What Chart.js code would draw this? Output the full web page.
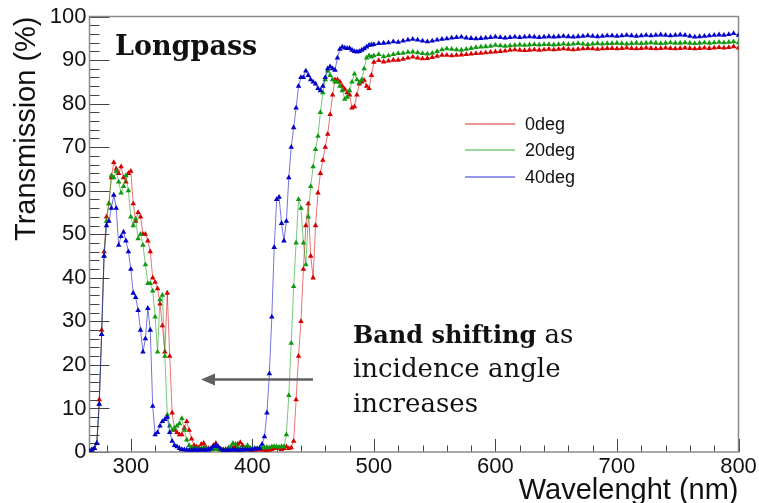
<!DOCTYPE html>
<html><head><meta charset="utf-8">
<script src="https://cdn.jsdelivr.net/npm/chart.js@4.4.1/dist/chart.umd.min.js"></script>
<style>html,body{margin:0;padding:0;background:#fff;overflow:hidden}#wrap{position:relative;width:759px;height:503px}</style>
</head><body><div id="wrap"><canvas id="c" width="759" height="503"></canvas></div>
<script>
const wavelengths = [
266,268,270,272,274,276,278,280,282,284,
286,288,290,292,294,296,298,300,302,304,
306,308,310,312,314,316,318,320,322,324,
326,328,330,332,334,336,338,340,342,344,
346,348,350,352,354,356,358,360,362,364,
366,368,370,372,374,376,378,380,382,384,
386,388,390,392,394,396,398,400,402,404,
406,408,410,412,414,416,418,420,422,424,
426,428,430,432,434,436,438,440,442,444,
446,448,450,452,454,456,458,460,462,464,
466,468,470,472,474,476,478,480,482,484,
486,488,490,492,494,496,498,500,
504,508,512,516,520,524,528,532,536,540,544,548,552,556,560,564,568,572,576,580,584,588,592,596,600,
604,608,612,616,620,624,628,632,636,640,644,648,652,656,660,664,668,672,676,680,684,688,692,696,700,
704,708,712,716,720,724,728,732,736,740,744,748,752,756,760,764,768,772,776,780,784,788,792,796,800];

const deg0 = [
0.3,0.5,0.8,2,12,28,46,54,57,63,
66.5,65,64,65.5,63,62,64,64.5,57,53,
55,54,50,50,48.5,46,40,39,37.5,34,
29,23,36.5,22,9,5,4.5,4,4,5.5,
7,5,3,1.5,1.2,1,1.8,2,1,0.8,
0.8,1.5,2,1,0.5,0.5,0.6,0.5,0.7,1,
1.2,1.8,2.2,1.5,0.8,0.6,0.5,0.5,0.4,0.5,
0.6,0.5,0.5,0.4,0.5,0.6,0.8,1,0.8,0.6,
0.8,1.2,0.8,1,2.5,12,22,30,42,52,
57,45,40,52,59.5,64,67,70,73,77.5,
82,85.5,85.5,85,84,83.3,82.5,82,79,79.3,
82,84.5,85,85.4,84,83.5,86.5,89.5,
89.9,89.6,89.8,90.0,90.0,90.2,90.5,90.7,90.5,90.3,90.4,90.6,90.9,91.1,91.1,91.0,91.1,91.2,91.3,91.4,91.5,91.6,91.7,91.8,91.9,
92.0,92.1,92.3,92.4,92.3,92.2,92.3,92.4,92.3,92.4,92.5,92.4,92.5,92.6,92.5,92.4,92.5,92.6,92.7,92.6,92.5,92.6,92.7,92.7,92.6,
92.7,92.8,92.7,92.6,92.7,92.8,92.7,92.6,92.7,92.8,92.7,92.6,92.7,92.8,92.7,92.6,92.7,92.8,92.7,92.8,92.9,92.8,92.9,93.1,92.8];

const deg20 = [
0.3,0.5,0.8,2,11,27,45,53,57,63.5,
63,64.5,62,59.5,61,63.5,60,54,52,53.5,
49,50,47.5,43,38.7,38.7,37,31,23,35,
36,22,8.5,6,5,5.5,6,6.5,7.7,5,
2.8,1.5,1,0.8,0.7,0.6,0.8,1,0.7,0.6,
0.5,0.6,0.8,0.6,0.5,0.5,0.6,0.8,1.2,2,
1.8,1,0.8,0.7,1,1.5,1,0.8,0.7,0.8,
1,0.9,1,1.1,1,1.2,1.3,1.2,1.1,1.3,
1.2,4,13,25,38,48,58,56,48,43,
54,61,65.5,69.5,72.5,78,82.5,85.5,87.5,86.5,
85.5,85,85,84,83,81,81.5,83,85,86.8,
85.5,84.8,85.5,88,90.5,91,90.7,91,
91.3,90.8,91.0,91.3,91.5,91.6,91.8,91.9,91.7,91.5,91.4,91.6,92.0,92.4,92.6,92.5,92.4,92.3,92.5,92.7,92.9,93.0,93.1,93.2,93.4,
93.3,93.2,93.3,93.4,93.5,93.4,93.5,93.6,93.5,93.6,93.6,93.5,93.6,93.7,93.6,93.7,93.8,93.7,93.6,93.7,93.8,93.7,93.8,93.8,93.9,
93.8,93.7,93.8,93.9,93.8,93.9,94.0,93.9,93.8,93.9,94.0,93.9,93.9,94.0,93.9,93.8,93.9,94.0,93.9,94.0,94.1,94.0,94.1,94.2,94.0];

const deg40 = [
0.3,0.5,0.8,2,11,27,45,52,53,56,
59,56,47.5,49.5,50.5,48.5,46,42,36.5,35.5,
32.5,28,23,26,33,28,10.5,4,4.5,6,
7,7.5,8,4.5,2.5,1.5,1.2,0.8,0.6,0.5,
0.5,0.4,0.4,0.5,0.4,0.4,0.5,0.5,0.4,0.5,
0.8,1.3,1.6,1.2,0.7,0.4,0.4,0.4,0.4,0.5,
0.5,0.4,0.4,0.5,0.5,0.6,0.5,0.6,0.8,0.7,
0.8,1.8,3.5,9,18,31,47,58,58.5,52.5,
48.5,53,63,70,74.5,79,84,86,86,87.5,
86.5,85.5,85,84.5,83.5,83,84,86,88,88.5,
88,87.7,90.5,92.5,93,92.8,92.7,92.7,92.3,92,
91.9,92,92.3,92.6,93,93.4,93.5,93.6,
93.8,93.9,94.0,94.2,94.1,94.4,94.6,94.8,94.6,94.4,94.2,94.4,94.6,94.8,94.9,95.1,95.2,95.3,95.1,95.0,94.9,95.0,95.1,95.2,95.3,
95.2,95.1,95.2,95.3,95.2,95.3,95.4,95.3,95.2,95.3,95.4,95.3,95.4,95.5,95.4,95.3,95.4,95.5,95.6,95.5,95.4,95.5,95.6,95.6,95.5,
95.6,95.7,95.6,95.5,95.6,95.7,95.6,95.7,95.8,95.7,95.6,95.7,95.8,95.7,95.5,95.3,95.4,95.5,95.6,95.7,95.8,95.7,95.9,96.1,95.7];

const seriesNames = ['0deg', '20deg', '40deg'];
const xTickValues = [300, 400, 500, 600, 700, 800];
const yTickValues = [0, 10, 20, 30, 40, 50, 60, 70, 80, 90, 100];
const chartTitle = 'Longpass';
const xTitle = 'Wavelenght (nm)';
const yTitle = 'Transmission (%)';
const noteBold = 'Band shifting';
const noteLines = [' as', 'incidence angle', 'increases'];

const colors = ['#d40000', '#119911', '#0000c8'];
const lineColors = ['rgba(212,0,0,0.55)', 'rgba(17,153,17,0.55)', 'rgba(0,0,200,0.55)'];

function pts(vals) { return wavelengths.map((w, i) => ({x: w, y: vals[i]})); }

const decor = {
  id: 'decor',
  beforeDatasetsDraw(chart) {
    const {ctx, chartArea: a, scales: {x, y}} = chart;
    ctx.save();
    ctx.strokeStyle = '#444';
    ctx.lineWidth = 1;
    ctx.beginPath();
    for (let v = Math.ceil(x.min / 20) * 20; v <= x.max; v += 20) {
      const px = Math.round(x.getPixelForValue(v)) + 0.5;
      const len = (v % 100 === 0) ? 13 : 6.5;
      ctx.moveTo(px, a.bottom); ctx.lineTo(px, a.bottom - len);
    }
    for (let v = 0; v <= 100; v += 2) {
      const py = Math.round(y.getPixelForValue(v)) + 0.5;
      const len = (v % 10 === 0) ? 20 : 10;
      ctx.moveTo(a.left, py); ctx.lineTo(a.left + len, py);
    }
    ctx.stroke();
    ctx.strokeStyle = '#8a8a8a';
    ctx.lineWidth = 1.5;
    ctx.strokeRect(a.left, a.top, a.right - a.left, a.bottom - a.top);
    ctx.restore();
  },
  afterDraw(chart) {
    const {ctx} = chart;
    ctx.save();
    // legend
    ctx.font = '18px "Liberation Sans", Arial, sans-serif';
    ctx.textBaseline = 'middle';
    ctx.textAlign = 'left';
    const ly = [124, 150, 177];
    for (let i = 0; i < 3; i++) {
      ctx.strokeStyle = lineColors[i];
      ctx.lineWidth = 1.6;
      ctx.beginPath(); ctx.moveTo(465, ly[i]); ctx.lineTo(515, ly[i]); ctx.stroke();
      ctx.fillStyle = '#111';
      ctx.fillText(seriesNames[i], 525, ly[i] + 1);
    }
    // title
    ctx.fillStyle = '#111';
    ctx.textBaseline = 'alphabetic';
    ctx.font = 'bold 27px "DejaVu Serif", serif';
    ctx.fillText(chartTitle, 115, 55);
    // note
    ctx.font = 'bold 24px "DejaVu Serif", serif';
    ctx.fillText(noteBold, 353, 343);
    const bw = ctx.measureText(noteBold).width;
    ctx.font = '26px "DejaVu Serif", serif';
    ctx.fillText(noteLines[0], 353 + bw, 343);
    ctx.fillText(noteLines[1], 353, 377);
    ctx.fillText(noteLines[2], 353, 411.5);
    // arrow
    ctx.strokeStyle = '#606060';
    ctx.fillStyle = '#606060';
    ctx.lineWidth = 2.5;
    ctx.beginPath(); ctx.moveTo(313, 379.5); ctx.lineTo(212, 379.5); ctx.stroke();
    ctx.beginPath(); ctx.moveTo(201, 379.5); ctx.lineTo(215, 373.5); ctx.lineTo(215, 385.5); ctx.closePath(); ctx.fill();
    ctx.restore();
  }
};

const sets = [deg0, deg20, deg40].map((vals, i) => ({
  label: seriesNames[i],
  data: pts(vals),
  borderColor: lineColors[i],
  borderWidth: 1,
  pointStyle: 'triangle',
  pointRadius: 3.2,
  pointBorderWidth: 0,
  pointBackgroundColor: colors[i],
  pointBorderColor: colors[i],
  fill: false,
  tension: 0,
  order: 3 - i
}));

new Chart(document.getElementById('c'), {
  type: 'line',
  data: {datasets: sets},
  options: {
    responsive: false,
    animation: false,
    layout: {autoPadding: false, padding: {left: 0, right: 20.5, top: 16.5, bottom: 0}},
    plugins: {legend: {display: false}, tooltip: {enabled: false}},
    scales: {
      x: {
        type: 'linear', min: 266, max: 800,
        afterBuildTicks: s => { s.ticks = xTickValues.map(v => ({value: v})); },
        afterFit: s => { s.height = 51; },
        grid: {display: false, drawTicks: false},
        border: {display: false},
        ticks: {padding: 2, color: '#111', font: {family: '"Liberation Sans", Arial, sans-serif', size: 22}, maxRotation: 0, autoSkip: false},
        title: {display: true, text: xTitle, align: 'end', color: '#111', padding: {top: 0, bottom: -2}, font: {family: '"Liberation Sans", Arial, sans-serif', size: 29, lineHeight: 1}}
      },
      y: {
        type: 'linear', min: 0, max: 100,
        afterBuildTicks: s => { s.ticks = yTickValues.map(v => ({value: v})); },
        afterFit: s => { s.width = 89.5; },
        grid: {display: false, drawTicks: false},
        border: {display: false},
        ticks: {padding: 3, color: '#111', font: {family: '"Liberation Sans", Arial, sans-serif', size: 22}, autoSkip: false},
        title: {display: true, text: yTitle, align: 'end', color: '#111', padding: {top: 12, bottom: 0}, font: {family: '"Liberation Sans", Arial, sans-serif', size: 29, lineHeight: 1}}
      }
    }
  },
  plugins: [decor]
});
</script>
</body></html>
